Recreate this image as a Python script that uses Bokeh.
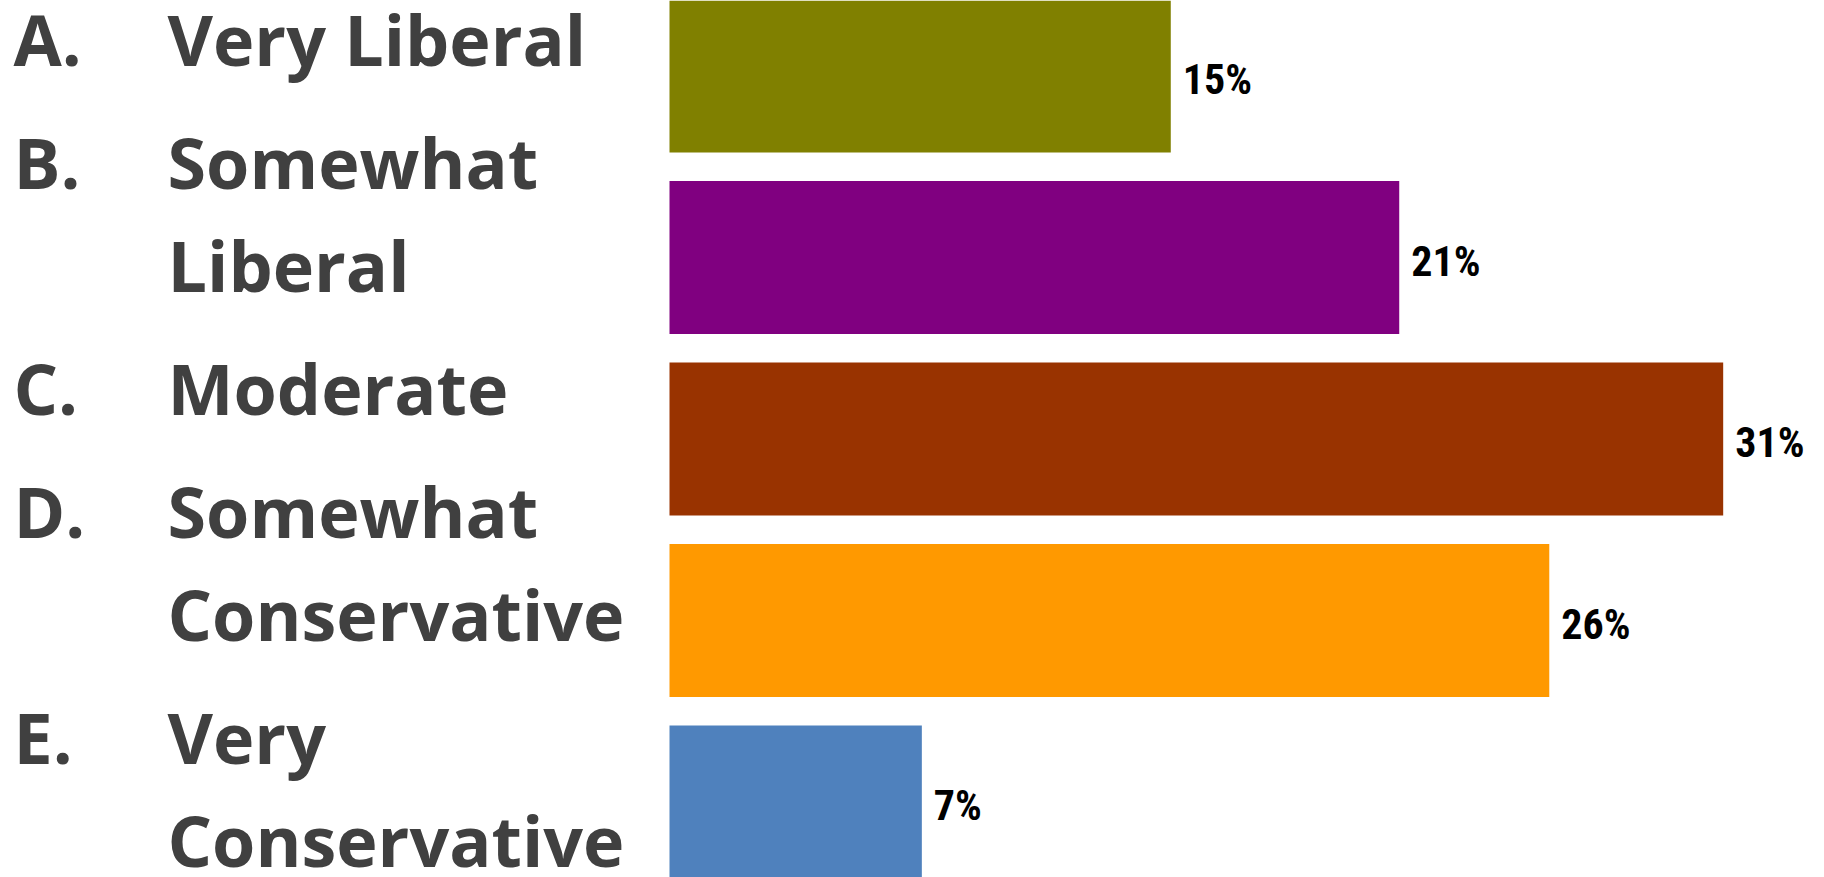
from bokeh.plotting import figure
from bokeh.models import Range1d, ColumnDataSource
from bokeh.core.properties import value
from bokeh.embed import file_html
from bokeh.resources import INLINE

# ---- data ----
letters = ["A.", "B.", "C.", "D.", "E."]
categories = ["Very Liberal", "Somewhat Liberal", "Moderate",
              "Somewhat Conservative", "Very Conservative"]
label_lines = [["Very Liberal"], ["Somewhat", "Liberal"], ["Moderate"],
               ["Somewhat", "Conservative"], ["Very", "Conservative"]]
shares = [14.7, 21.4, 30.9, 25.8, 7.4]
colors = ["#808000", "#800080", "#993300", "#FF9900", "#4F81BD"]

# ---- layout (pixels) ----
W, H = 1824, 877
PX_PER_PCT = 34.1
X0_PX = 669.0
ROW_PX = 181.5
FIRST_ROW_PX = 75.5
BAR_PX = 153.0
BASELINE_FIX = 0.39  # em; renderer places alphabetic baseline this much lower

y_top = -FIRST_ROW_PX / ROW_PX
x_range = Range1d(-X0_PX / PX_PER_PCT, (W - X0_PX) / PX_PER_PCT)
y_range = Range1d(y_top + H / ROW_PX, y_top)


def px_y(py):
    return y_top + py / ROW_PX


def px_x(px):
    return (px - X0_PX) / PX_PER_PCT


p = figure(width=W, height=H, x_range=x_range, y_range=y_range,
           output_backend="svg", toolbar_location=None,
           x_axis_location=None, y_axis_location=None,
           min_border=0, outline_line_color=None,
           background_fill_color="white", border_fill_color="white")
p.grid.visible = False

idx = list(range(len(categories)))
src = ColumnDataSource(dict(
    y=idx, share=shares, color=colors, cat=categories,
    label=[f"{round(v)}%" for v in shares],
))

p.hbar(y="y", left=0, right="share", height=BAR_PX / ROW_PX,
       fill_color="color", line_color=None, source=src)

PCT_FS = 42
p.text(x="share", y="y", text="label", source=src,
       x_offset=12, y_offset=20 - BASELINE_FIX * PCT_FS,
       text_font=value("'Roboto Condensed', 'Liberation Sans Narrow', Roboto, sans-serif"),
       text_font_style="bold", text_font_size=f"{PCT_FS}px", text_color="#000000",
       text_align="left", text_baseline="alphabetic")

# category labels (letter + wrapped name)
CAT_FS = 70
lx, ly, ltxt = [], [], []
wx, wy, wtxt = [], [], []
base = 65.5
for i, lines in enumerate(label_lines):
    lx.append(px_x(13)); ly.append(px_y(base - BASELINE_FIX * CAT_FS)); ltxt.append(letters[i])
    for j, line in enumerate(lines):
        if j > 0:
            base += 103
        wx.append(px_x(167)); wy.append(px_y(base - BASELINE_FIX * CAT_FS)); wtxt.append(line)
    base += 123

common = dict(text_font=value("Open Sans"), text_font_style="bold",
              text_font_size=f"{CAT_FS}px", text_color="#404040",
              text_align="left", text_baseline="alphabetic")
p.text(x=lx, y=ly, text=ltxt, **common)
p.text(x=wx, y=wy, text=wtxt, **common)

open("out.html", "w").write(file_html(p, INLINE))
